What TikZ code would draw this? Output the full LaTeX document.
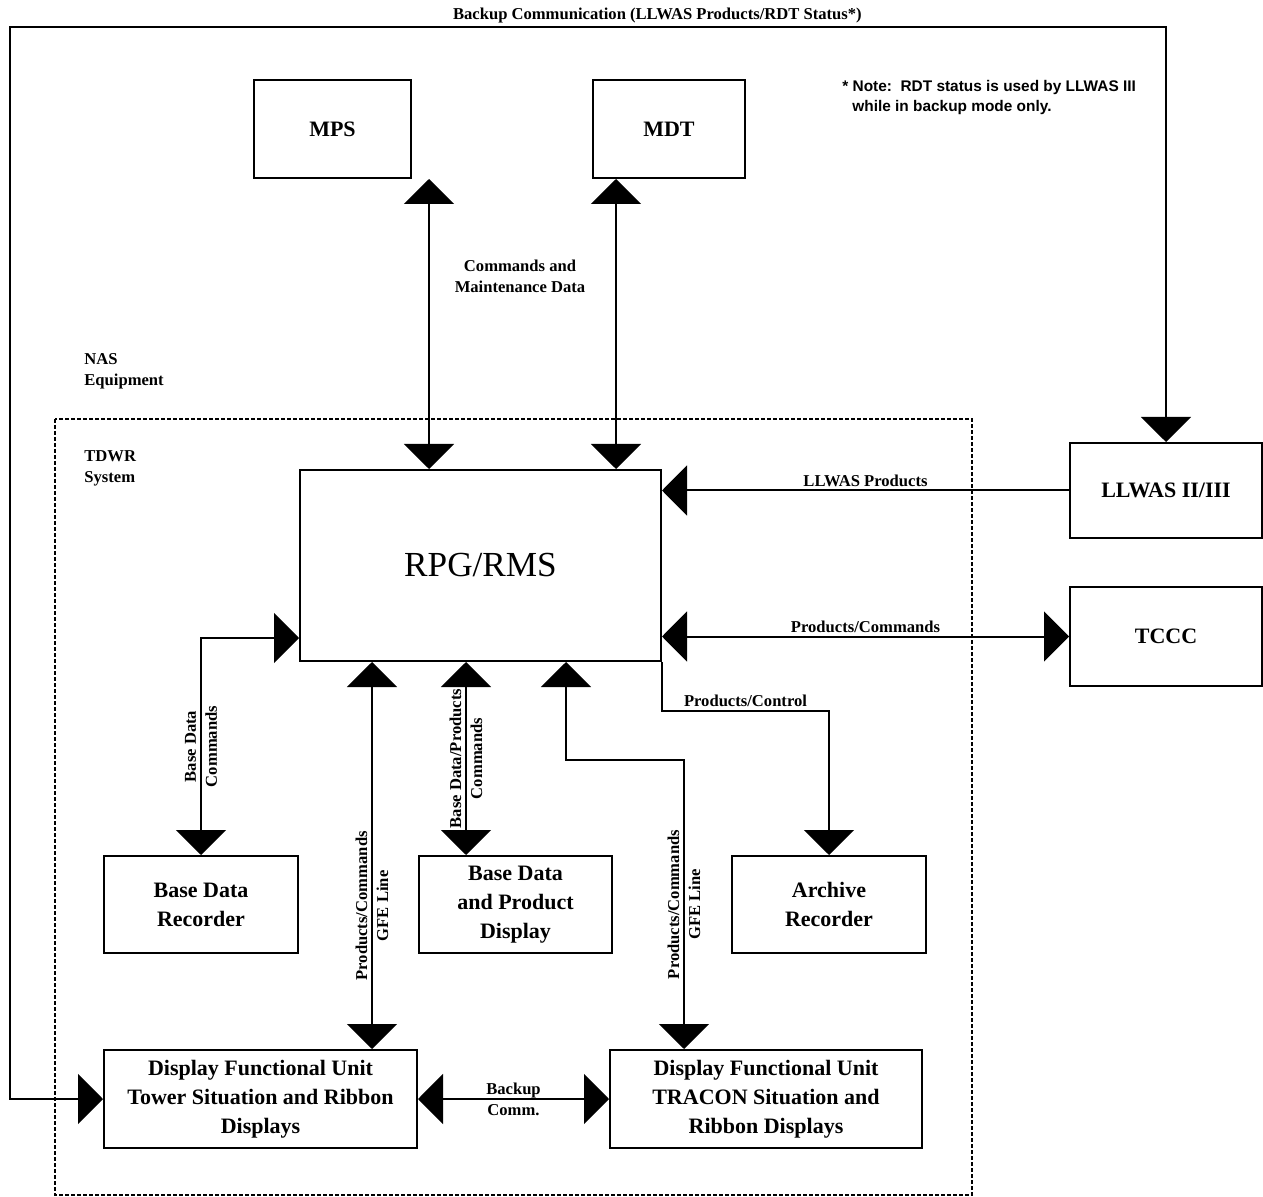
\documentclass[tikz,border=0pt]{standalone}
\usepackage{fontspec}
\setmainfont{Liberation Serif}
\newfontfamily\notefont{Liberation Sans}
\usetikzlibrary{arrows.meta}

\begin{document}
\begin{tikzpicture}[x=0.5pt,y=-0.5pt,>={Triangle[width=25pt,length=12.5pt]},
  blk/.style={draw,line width=1pt,inner sep=0pt,align=center,
    font=\bfseries\fontsize{11}{14.5}\selectfont},
  lbl/.style={font=\bfseries\fontsize{8.3}{10.5}\selectfont,align=center,inner sep=1.5pt},
  one/.style={line width=1pt,->},
  dub/.style={line width=1pt,<->}]
\useasboundingbox (0,0) rectangle (1263,1197);

% TDWR system frame
\draw[line width=0.6pt,dash pattern=on 2pt off 1pt] (55,419) rectangle (972,1195);

\node[blk,minimum width=78.5pt,minimum height=49pt] (mps) at (332.5,129) {MPS};
\node[blk,minimum width=76pt,minimum height=49pt] (mdt) at (669,129) {MDT};
\node[blk,minimum width=180.5pt,minimum height=95.5pt,font=\fontsize{17.6}{20}\selectfont] (rpg) at (480.5,565.5) {RPG/RMS};
\node[blk,minimum width=96pt,minimum height=47.5pt] (llwas) at (1166,490.5) {LLWAS II/III};
\node[blk,minimum width=96pt,minimum height=49.5pt] (tccc) at (1166,636.5) {TCCC};
\node[blk,minimum width=97pt,minimum height=48.5pt] (bdr) at (201,904.5) {Base Data\\Recorder};
\node[blk,minimum width=96.5pt,minimum height=48.5pt] (bdpd) at (515.5,904.5) {Base Data\\and Product\\Display};
\node[blk,minimum width=97pt,minimum height=48.5pt] (arch) at (829,904.5) {Archive\\Recorder};
\node[blk,minimum width=156.5pt,minimum height=49pt] (dfut) at (260.5,1099) {Display Functional Unit\\Tower Situation and Ribbon\\Displays};
\node[blk,minimum width=156pt,minimum height=49pt] (dfutr) at (766,1099) {Display Functional Unit\\TRACON Situation and\\Ribbon Displays};

\node[lbl,align=left,anchor=west] (nas) at (81,371) {NAS\\Equipment};
\node[lbl,align=left,anchor=west] (tdwr) at (81,468) {TDWR\\System};
\node[lbl] (cmd) at (520,276) {Commands and\\Maintenance Data};
\node[anchor=west,align=left,inner sep=0pt,font=\notefont\bfseries\fontsize{7.7}{10}\selectfont] (note) at (842,98)
  {* Note:\ \ RDT status is used by LLWAS III\\\hspace*{5pt}while in backup mode only.};

\coordinate (bk) at (10,27);
\coordinate (m1) at ([xshift=65pt]rpg.north west);
\coordinate (m2) at ([xshift=158.5pt]rpg.north west);
\coordinate (g1) at ([xshift=36.5pt]rpg.south west);
\coordinate (g2) at ([xshift=83.5pt]rpg.south west);
\coordinate (g3) at ([xshift=37.5pt]dfutr.north west);
\coordinate (jog) at (566,760);

\draw[dub] (m1 |- mps.south) -- (m1);
\draw[dub] (m2 |- mdt.south) -- (m2);
\draw[one] (llwas.west) -- (llwas.west -| rpg.east) node[lbl,midway,above]{LLWAS Products};
\draw[dub] (tccc.west) -- (tccc.west -| rpg.east) node[lbl,midway,above]{Products/Commands};
\draw[dub] (bdr.north) |- node[lbl,rotate=90,pos=0.25]{Base Data\\Commands} ([yshift=12pt]rpg.south west);
\draw[dub] (g1) -- (g1 |- dfut.north) node[lbl,rotate=90,pos=0.63]{Products/Commands\\GFE Line};
\draw[dub] (g2) -- (g2 |- bdpd.north) node[lbl,rotate=90,midway]{Base Data/Products\\Commands};
\draw[dub] (g3) |- node[lbl,rotate=90,pos=0.25]{Products/Commands\\GFE Line} (jog) -- (jog |- rpg.south);
\draw[one] (rpg.south east) -- ++(0,49) -| node[lbl,pos=0.25,above]{Products/Control} (arch.north);
\draw[dub] (dfut.east) -- (dfutr.west) node[lbl,midway]{Backup\\Comm.};
\draw[dub] (dfut.west) -| (bk) -| node[lbl,pos=0.28,above]{Backup Communication (LLWAS Products/RDT Status*)} (llwas.north);
\end{tikzpicture}
\end{document}
